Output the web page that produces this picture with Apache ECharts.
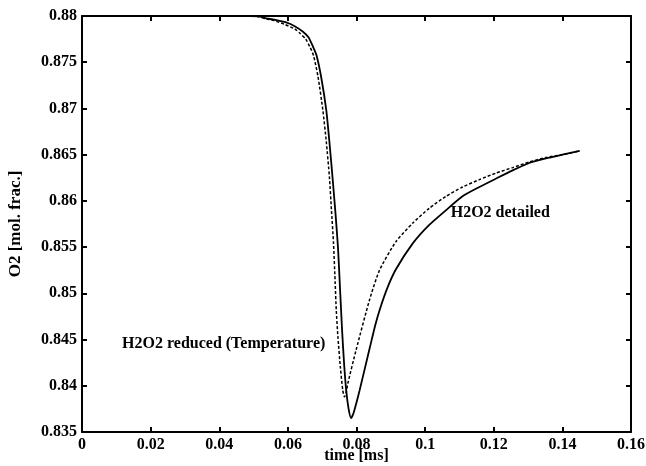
<!DOCTYPE html>
<html><head><meta charset="utf-8">
<script src="https://cdn.jsdelivr.net/npm/echarts@6/dist/echarts.min.js"></script>
<style>html,body{margin:0;padding:0;background:#fff}#c{width:646px;height:466px}</style>
</head><body><div id="c"></div>
<script>
// time [ms] and O2 mole fraction
const tDetailed = [0, 0.01, 0.02, 0.03, 0.04, 0.045, 0.049, 0.0515, 0.0537, 0.056, 0.0595, 0.062, 0.0644, 0.0660, 0.0673, 0.0683, 0.0697, 0.0712, 0.0721, 0.0730, 0.0738, 0.0746, 0.0752, 0.0758, 0.0764, 0.0770, 0.0777, 0.0784, 0.0791, 0.0800, 0.0809, 0.0838, 0.0855, 0.0870, 0.0890, 0.0915, 0.0964, 0.1012, 0.1061, 0.1109, 0.1158, 0.1206, 0.1255, 0.1303, 0.1352, 0.14, 0.145];
const o2Detailed = [0.88, 0.88, 0.88, 0.88, 0.88, 0.88, 0.88, 0.87995, 0.87975, 0.8796, 0.8793, 0.8789, 0.8783, 0.8777, 0.8767, 0.8758, 0.8734, 0.8698, 0.8664, 0.8626, 0.8590, 0.8550, 0.8505, 0.8460, 0.8423, 0.8395, 0.8375, 0.8365, 0.8370, 0.8382, 0.8395, 0.8440, 0.8466, 0.8485, 0.8506, 0.8526, 0.8554, 0.8574, 0.8590, 0.8605, 0.8615, 0.8624, 0.8633, 0.8641, 0.8646, 0.8650, 0.8654];
const tReduced = [0, 0.01, 0.02, 0.03, 0.04, 0.045, 0.049, 0.0515, 0.0535, 0.056, 0.059, 0.062, 0.0636, 0.0652, 0.0665, 0.0675, 0.0688, 0.0702, 0.0712, 0.0721, 0.0727, 0.0733, 0.0738, 0.0741, 0.0746, 0.0753, 0.0760, 0.0765, 0.0770, 0.0775, 0.0799, 0.0838, 0.0867, 0.0915, 0.0964, 0.1012, 0.1061, 0.1109, 0.1158, 0.1206, 0.1255, 0.1303, 0.1352, 0.14, 0.145];
const o2Reduced = [0.88, 0.88, 0.88, 0.88, 0.88, 0.88, 0.88, 0.87993, 0.8797, 0.8795, 0.8791, 0.8786, 0.8781, 0.8775, 0.8766, 0.8757, 0.8734, 0.8698, 0.8664, 0.8626, 0.8590, 0.8554, 0.8510, 0.8482, 0.8452, 0.8420, 0.8395, 0.8388, 0.8393, 0.8403, 0.8439, 0.8493, 0.8525, 0.8556, 0.8576, 0.8592, 0.8605, 0.8615, 0.8623, 0.8630, 0.8636, 0.8642, 0.8647, 0.8650, 0.8654];
const xTicks = [0, 0.02, 0.04, 0.06, 0.08, 0.1, 0.12, 0.14, 0.16];
const yTicks = [0.835, 0.84, 0.845, 0.85, 0.855, 0.86, 0.865, 0.87, 0.875, 0.88];
const annotations = [
  {name: 'H2O2 reduced (Temperature)', t: 0.0413, o2: 0.8445},
  {name: 'H2O2 detailed', t: 0.1219, o2: 0.8587}
];

const font = 'Liberation Serif';
const zip = (a, b) => a.map((v, i) => [v, b[i]]);
const fmt = v => String(+v.toFixed(3));

const axisCommon = {
  axisLine: {show: true, onZero: false, lineStyle: {color: '#000', width: 2}},
  axisTick: {show: true, inside: true, length: 5, lineStyle: {color: '#000', width: 2}},
  splitLine: {show: false}
};

const chart = echarts.init(document.getElementById('c'), null, {renderer: 'canvas'});
chart.setOption({
  animation: false,
  backgroundColor: '#fff',
  grid: {left: 82, right: 15, top: 16, bottom: 34, containLabel: false, outerBoundsMode: 'none'},
  xAxis: [
    Object.assign({
      type: 'value', min: xTicks[0], max: xTicks[xTicks.length - 1], interval: 0.02,
      position: 'bottom',
      name: 'time [ms]', nameLocation: 'middle', nameGap: 16, nameMoveOverlap: false,
      nameTextStyle: {fontFamily: font, fontWeight: 'bold', fontSize: 16, color: '#000', verticalAlign: 'top'},
      axisLabel: {show: true, margin: 5, fontFamily: font, fontWeight: 'bold', fontSize: 16, color: '#000', formatter: fmt}
    }, axisCommon),
    Object.assign({
      type: 'value', min: xTicks[0], max: xTicks[xTicks.length - 1], interval: 0.02,
      position: 'top', axisLabel: {show: false}
    }, axisCommon)
  ],
  yAxis: [
    Object.assign({
      type: 'value', min: yTicks[0], max: yTicks[yTicks.length - 1], interval: 0.005,
      position: 'left',
      name: 'O2 [mol. frac.]', nameLocation: 'middle', nameGap: 58,
      nameTextStyle: {fontFamily: font, fontWeight: 'bold', fontSize: 17, color: '#000'},
      axisLabel: {show: true, margin: 5, fontFamily: font, fontWeight: 'bold', fontSize: 16, color: '#000', formatter: fmt}
    }, axisCommon),
    Object.assign({
      type: 'value', min: yTicks[0], max: yTicks[yTicks.length - 1], interval: 0.005,
      position: 'right', axisLabel: {show: false}
    }, axisCommon)
  ],
  series: [
    {
      name: 'H2O2 detailed', type: 'line', data: zip(tDetailed, o2Detailed),
      showSymbol: false, smooth: 0.2, clip: true,
      lineStyle: {color: '#000', width: 1.8, type: 'solid'}
    },
    {
      name: 'H2O2 reduced (Temperature)', type: 'line', data: zip(tReduced, o2Reduced),
      showSymbol: false, smooth: 0.2, clip: true,
      lineStyle: {color: '#000', width: 1.5, type: [3, 2]}
    },
    {
      type: 'scatter', symbolSize: 0, silent: true,
      itemStyle: {opacity: 1},
      data: annotations.map(a => ({name: a.name, value: [a.t, a.o2]})),
      label: {show: true, position: 'inside', formatter: p => p.name, opacity: 1,
        fontFamily: font, fontWeight: 'bold', fontSize: 16, color: '#000'}
    }
  ]
});
</script></body></html>
